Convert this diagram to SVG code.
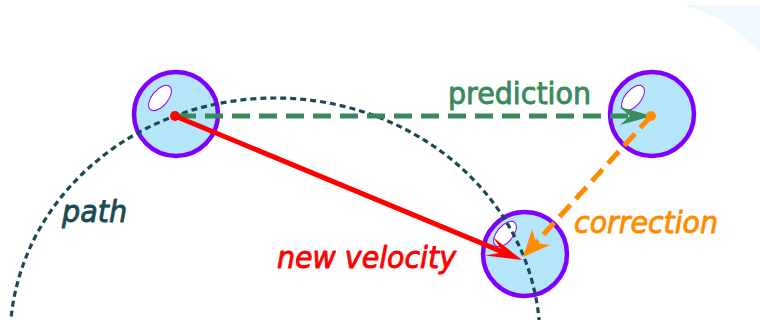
<svg xmlns="http://www.w3.org/2000/svg" width="760" height="320" viewBox="0 0 760 320">
<style>
.ball{fill:#b5e5f9;stroke:#8000ff;stroke-width:4.5}
.hl{fill:#ffffff;stroke:#8000ff;stroke-width:1}
.lbl{font-family:"DejaVu Sans","Verdana",sans-serif;font-size:30px;stroke-width:0.9;stroke-linejoin:round}
.it{font-style:italic}
</style>
<defs>
<marker id="ahRed" viewBox="-26 -13 39 26" markerWidth="39" markerHeight="26" refX="0" refY="0" orient="auto" markerUnits="userSpaceOnUse">
<path d="M12,0 L-24,-10 L-8,0 L-24,10 Z" fill="#ff0000"/>
</marker>
<marker id="ahGreen" viewBox="-26 -13 39 26" markerWidth="39" markerHeight="26" refX="0" refY="0" orient="auto" markerUnits="userSpaceOnUse">
<path d="M12,0 L-20,-9 L-10,0 L-20,9 Z" fill="#3a8a5c"/>
</marker>
<marker id="ahOrange" viewBox="-26 -13 39 26" markerWidth="39" markerHeight="26" refX="0" refY="0" orient="auto" markerUnits="userSpaceOnUse">
<path d="M12,0 L-15,-12 L-7,0 L-15,12 Z" fill="#ff8c00"/>
</marker>
</defs>
<rect width="760" height="320" fill="#ffffff"/>
<path d="M683,5 L760,5 L760,52 Q728,18 683,5 Z" fill="#f0f9fe"/>
<g id="ball-start">
<circle class="ball" cx="176" cy="114" r="42"/>
<ellipse class="hl" cx="160" cy="98" rx="15" ry="8" transform="rotate(-50 160 98)"/>
</g>
<g id="ball-predicted">
<circle class="ball" cx="652" cy="114" r="42"/>
<ellipse class="hl" cx="633" cy="98" rx="15" ry="8" transform="rotate(-50 633 98)"/>
</g>
<g id="ball-corrected">
<circle class="ball" cx="525" cy="254" r="42"/>
<ellipse class="hl" cx="505" cy="234" rx="15" ry="8" transform="rotate(-50 505 234)"/>
</g>
<g id="connectors">
<ellipse id="path-curve" cx="275" cy="340" rx="265" ry="242" fill="none" stroke="#1b4b50" stroke-width="3.2" stroke-dasharray="6 4"/>
<line x1="178" y1="116" x2="640" y2="116" stroke="#3a8a5c" stroke-width="5" stroke-dasharray="18 9" marker-end="url(#ahGreen)"/>
<circle cx="651" cy="116" r="5" fill="#ff8c00"/>
<line x1="651" y1="116" x2="531.1" y2="248.1" stroke="#ff8c00" stroke-width="5" stroke-dasharray="16 8" marker-end="url(#ahOrange)"/>
<circle cx="175" cy="116" r="5" fill="#ff0000"/>
<line x1="175" y1="116" x2="511" y2="255.4" stroke="#ff0000" stroke-width="5" marker-end="url(#ahRed)"/>
</g>
<g id="labels">
<text class="lbl" x="448" y="104" fill="#3a8a5c" stroke="#3a8a5c" textLength="143" lengthAdjust="spacingAndGlyphs">prediction</text>
<text class="lbl it" x="62" y="222" fill="#1b4b50" stroke="#1b4b50" textLength="65" lengthAdjust="spacingAndGlyphs">path</text>
<text class="lbl it" x="277" y="268" fill="#ff0000" stroke="#ff0000" textLength="179" lengthAdjust="spacingAndGlyphs">new velocity</text>
<text class="lbl it" x="574" y="233" fill="#ff8c00" stroke="#ff8c00" textLength="144" lengthAdjust="spacingAndGlyphs">correction</text>
</g>
</svg>
